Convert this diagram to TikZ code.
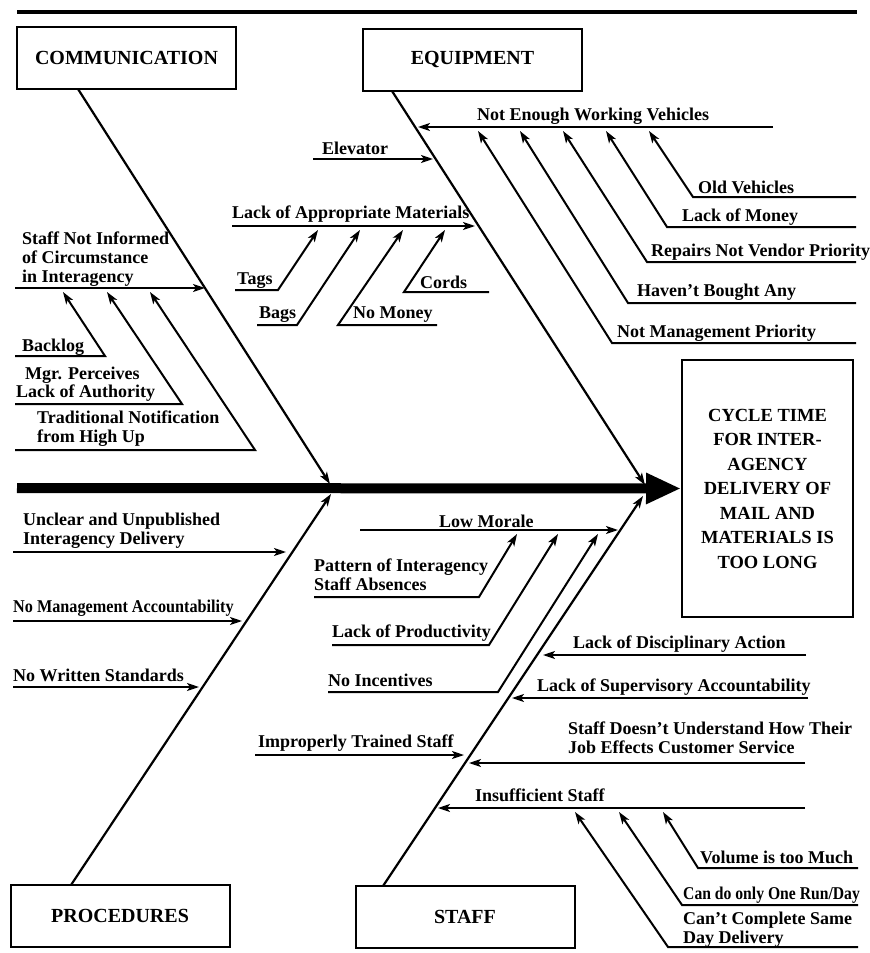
\documentclass[tikz,border=0pt]{standalone}
\usepackage{fontspec}
\setmainfont{Liberation Serif}
\usetikzlibrary{arrows.meta}

\newcommand{\lblfont}{\fontsize{18}{19}\selectfont\bfseries}
\newcommand{\catfont}{\fontsize{20}{24}\selectfont\bfseries}
\newcommand{\effectfont}{\fontsize{18.5}{24.5}\selectfont\bfseries}

\tikzset{
  lbl/.style={font=\lblfont, inner sep=0pt, anchor=west, align=left},
  catbox/.style={draw, line width=2pt, font=\catfont, inner sep=0pt,
                 minimum width=219pt, minimum height=62pt},
  bone/.style={line width=2.2pt, -{Stealth[length=12pt,width=8pt,inset=3pt]}},
  twig/.style={line width=2pt, -{Stealth[length=12pt,width=8pt,inset=3pt]}},
  backbone/.style={line width=10pt, -{Triangle[length=35pt,width=29pt]}}
}

\begin{document}
\begin{tikzpicture}[x=1pt,y=-1pt]
\useasboundingbox (0,0) rectangle (870,953);

% top rule
\coordinate (ruleL) at (17,12);
\coordinate (ruleR) at (857,12);
\draw[line width=4pt] (ruleL) -- (ruleR);

% category boxes and the effect
\node[catbox] (comm)  at (126.5,58)  {COMMUNICATION};
\node[catbox] (equip) at (472.5,59.5){EQUIPMENT};
\node[catbox] (proc)  at (120,916)   {PROCEDURES};
\node[catbox] (staff) at (465,917)   {STAFF};
\node[draw, line width=2pt, font=\effectfont, align=center, inner sep=0pt,
      minimum width=171pt, minimum height=257pt] (effect) at (767.5,488.5)
  {CYCLE TIME\\FOR INTER-\\AGENCY\\DELIVERY OF\\MAIL AND\\MATERIALS IS\\TOO LONG};

% backbone
\coordinate (tail) at (17,488);
\draw[backbone] (tail) -- (effect.west);

% main bones
\coordinate (commA) at (78,89);   \coordinate (commB) at (330,484);
\coordinate (equipA) at (392,91); \coordinate (equipB) at (645,485);
\coordinate (procA) at (71,885);  \coordinate (procB) at (331,494);
\coordinate (staffA) at (383,886);\coordinate (staffB) at (643,496);
\draw[bone] (commA) -- (commB);
\draw[bone] (equipA) -- (equipB);
\draw[bone] (procA) -- (procB);
\draw[bone] (staffA) -- (staffB);

% ---------------- COMMUNICATION ----------------
\node[lbl] (sni) at (22,259) {Staff Not Informed\\of Circumstance\\in Interagency};
\coordinate (sniA) at (15,288); \coordinate (sniB) at (205,288);
\draw[twig] (sniA) -- (sniB);

\node[lbl] (backlog) at (22,347) {Backlog};
\coordinate (blA) at (15,356); \coordinate (blK) at (105,356); \coordinate (blB) at (63,292);
\draw[twig] (blA) -- (blK) -- (blB);

\node[lbl] (mgr1) at (25,375) {Mgr. Perceives};
\node[lbl] (mgr2) at (16,393) {Lack of Authority};
\coordinate (mgA) at (15,404); \coordinate (mgK) at (182,404); \coordinate (mgB) at (107,292);
\draw[twig] (mgA) -- (mgK) -- (mgB);

\node[lbl] (trad) at (37,429) {Traditional Notification\\from High Up};
\coordinate (trA) at (15,450); \coordinate (trK) at (255,450); \coordinate (trB) at (150,292);
\draw[twig] (trA) -- (trK) -- (trB);

% ---------------- EQUIPMENT ----------------
\node[lbl] (elev) at (322,148) {Elevator};
\coordinate (elA) at (313,159); \coordinate (elB) at (433,159);
\draw[twig] (elA) -- (elB);

\node[lbl] (newv) at (477,116) {Not Enough Working Vehicles};
\coordinate (nvA) at (773,127); \coordinate (nvB) at (418,127);
\draw[twig] (nvA) -- (nvB);

\node[lbl] (oldv) at (698,187) {Old Vehicles};
\coordinate (ovA) at (856,197); \coordinate (ovK) at (693,197); \coordinate (ovB) at (649,131);
\draw[twig] (ovA) -- (ovK) -- (ovB);

\node[lbl] (lom) at (682,217) {Lack of Money};
\coordinate (lmA) at (856,227); \coordinate (lmK) at (667,227); \coordinate (lmB) at (606,131);
\draw[twig] (lmA) -- (lmK) -- (lmB);

\node[lbl] (rep) at (651,252) {Repairs Not Vendor Priority};
\coordinate (rpA) at (856,262); \coordinate (rpK) at (647,262); \coordinate (rpB) at (563,131);
\draw[twig] (rpA) -- (rpK) -- (rpB);

\node[lbl] (hba) at (637,292) {Haven't Bought Any};
\coordinate (hbA) at (856,303); \coordinate (hbK) at (628,303); \coordinate (hbB) at (520,131);
\draw[twig] (hbA) -- (hbK) -- (hbB);

\node[lbl] (nmp) at (617,333) {Not Management Priority};
\coordinate (npA) at (856,343); \coordinate (npK) at (612,343); \coordinate (npB) at (478,131);
\draw[twig] (npA) -- (npK) -- (npB);

\node[lbl] (lam) at (232,214) {Lack of Appropriate Materials};
\coordinate (laA) at (232,226); \coordinate (laB) at (475,226);
\draw[twig] (laA) -- (laB);

\node[lbl] (tags) at (237,281) {Tags};
\coordinate (tgA) at (235,290); \coordinate (tgK) at (278,290); \coordinate (tgB) at (318,230);
\draw[twig] (tgA) -- (tgK) -- (tgB);

\node[lbl] (bags) at (259,315) {Bags};
\coordinate (bgA) at (257,325); \coordinate (bgK) at (297,325); \coordinate (bgB) at (360,230);
\draw[twig] (bgA) -- (bgK) -- (bgB);

\node[lbl] (nomo) at (353,315) {No Money};
\coordinate (nmA) at (437,325); \coordinate (nmK) at (338,325); \coordinate (nmB) at (403,230);
\draw[twig] (nmA) -- (nmK) -- (nmB);

\node[lbl] (cords) at (420,282) {Cords};
\coordinate (cdA) at (489,292); \coordinate (cdK) at (404,292); \coordinate (cdB) at (445,230);
\draw[twig] (cdA) -- (cdK) -- (cdB);

% ---------------- PROCEDURES ----------------
\node[lbl] (unc) at (23,531) {Unclear and Unpublished\\Interagency Delivery};
\coordinate (unA) at (13,552); \coordinate (unB) at (286,552);
\draw[twig] (unA) -- (unB);

\node[lbl] (nma) at (13,608) {\scalebox{0.9}[1]{No Management Accountability}};
\coordinate (maA) at (13,621); \coordinate (maB) at (242,621);
\draw[twig] (maA) -- (maB);

\node[lbl] (nws) at (13,675) {No Written Standards};
\coordinate (wsA) at (13,687); \coordinate (wsB) at (199,687);
\draw[twig] (wsA) -- (wsB);

% ---------------- STAFF ----------------
\node[lbl] (lowm) at (439,521) {Low Morale};
\coordinate (lwA) at (360,530); \coordinate (lwB) at (618,530);
\draw[twig] (lwA) -- (lwB);

\node[lbl] (pat) at (314,575) {Pattern of Interagency\\Staff Absences};
\coordinate (paA) at (314,597); \coordinate (paK) at (479,597); \coordinate (paB) at (517,534);
\draw[twig] (paA) -- (paK) -- (paB);

\node[lbl] (prod) at (332,633) {Lack of Productivity};
\coordinate (prA) at (332,645); \coordinate (prK) at (489,645); \coordinate (prB) at (558,534);
\draw[twig] (prA) -- (prK) -- (prB);

\node[lbl] (inc) at (328,680) {No Incentives};
\coordinate (inA) at (328,692); \coordinate (inK) at (498,692); \coordinate (inB) at (598,534);
\draw[twig] (inA) -- (inK) -- (inB);

\node[lbl] (disc) at (573,644) {Lack of Disciplinary Action};
\coordinate (diA) at (806,655); \coordinate (diB) at (543,655);
\draw[twig] (diA) -- (diB);

\node[lbl] (sup) at (537,687) {Lack of Supervisory Accountability};
\coordinate (suA) at (808,698); \coordinate (suB) at (512,698);
\draw[twig] (suA) -- (suB);

\node[lbl] (und) at (568,738) {Staff Doesn't Understand How Their\\Job Effects Customer Service};
\coordinate (udA) at (805,763); \coordinate (udB) at (469,763);
\draw[twig] (udA) -- (udB);

\node[lbl] (imp) at (258,743) {Improperly Trained Staff};
\coordinate (imA) at (255,755); \coordinate (imB) at (464,755);
\draw[twig] (imA) -- (imB);

\node[lbl] (ins) at (475,795) {Insufficient Staff};
\coordinate (isA) at (805,808); \coordinate (isB) at (438,808);
\draw[twig] (isA) -- (isB);

\node[lbl] (vol) at (700,857) {Volume is too Much};
\coordinate (voA) at (858,868); \coordinate (voK) at (698,868); \coordinate (voB) at (663,812);
\draw[twig] (voA) -- (voK) -- (voB);

\node[lbl] (run) at (683,895) {\scalebox{0.87}[1]{Can do only One Run/Day}};
\coordinate (ruA) at (858,905); \coordinate (ruK) at (682,905); \coordinate (ruB) at (619,812);
\draw[twig] (ruA) -- (ruK) -- (ruB);

\node[lbl] (cant) at (683,930) {Can't Complete Same\\Day Delivery};
\coordinate (ctA) at (858,947); \coordinate (ctK) at (668,947); \coordinate (ctB) at (575,812);
\draw[twig] (ctA) -- (ctK) -- (ctB);

\end{tikzpicture}
\end{document}
